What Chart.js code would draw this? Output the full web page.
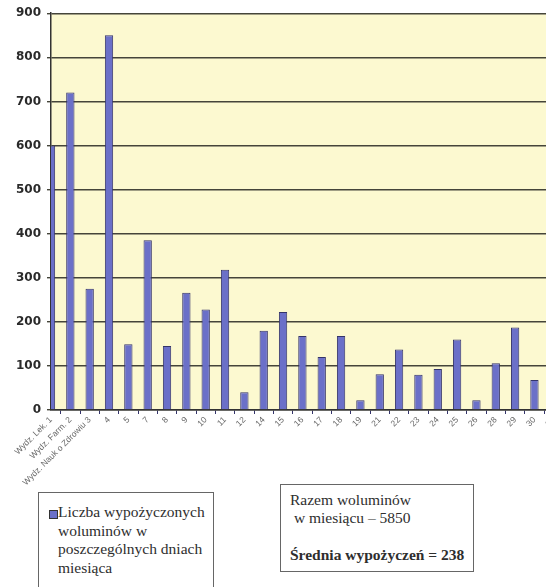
<!DOCTYPE html>
<html>
<head>
<meta charset="utf-8">
<script src="https://cdn.jsdelivr.net/npm/chart.js@4/dist/chart.umd.min.js"></script>
<style>
  html, body { margin:0; padding:0; background:#fff; width:546px; height:587px; overflow:hidden; }
  #wrap { position:absolute; left:0; top:0; width:562px; height:500px; }
  .box { position:absolute; border:1px solid #666; background:#fff; font-family:'Liberation Serif','Times New Roman',serif; font-size:15.5px; color:#2e2e2e; }
  #legendBox { left:38px; top:492px; width:174px; height:120px; }
  #legendBox .sw { position:absolute; left:10px; top:17px; width:7px; height:7px; border:1px solid #333; }
  #legendBox .txt { position:absolute; left:19px; top:10px; line-height:18.6px; white-space:nowrap; font-family:'Liberation Serif',serif; }
  #sumBox { left:280px; top:484px; width:192px; height:86px; }
  #sumBox .l { position:absolute; left:9px; line-height:18px; white-space:pre; font-family:'Liberation Serif',serif; }
</style>
</head>
<body>
<div id="wrap"><canvas id="c" width="562" height="500"></canvas></div>
<div class="box" id="legendBox"><div class="sw" id="sw"></div><div class="txt" id="legendTxt"></div></div>
<div class="box" id="sumBox"></div>
<script>
const categories = ['Wydz. Lek. 1','Wydz. Farm. 2','Wydz. Nauk o Zdrowiu 3','4','5','7','8','9','10','11','12','14','15','16','17','18','19','21','22','23','24','25','26','28','29','30','31'];
const loans = [600,720,275,850,149,385,145,266,228,318,40,180,222,168,120,168,22,81,137,80,93,160,22,106,187,68,60];
const yTicks = [0,100,200,300,400,500,600,700,800,900];
const seriesName = 'Liczba wypożyczonych woluminów w poszczególnych dniach miesiąca';
const legendLines = ['Liczba wypożyczonych','woluminów w','poszczególnych dniach','miesiąca'];
const summaryLines = ['Razem woluminów',' w miesiącu – 5850','Średnia wypożyczeń = 238'];

const barFill = '#6b70c8';
const barEdge = '#34346a';

document.getElementById('sw').style.background = barFill;
document.getElementById('legendTxt').innerHTML = legendLines.join('<br>');
const sb = document.getElementById('sumBox');
const tops = [6, 24, 61];
summaryLines.forEach((t, i) => {
  const d = document.createElement('div');
  d.className = 'l';
  d.style.top = tops[i] + 'px';
  if (i === 2) d.style.fontWeight = 'bold';
  d.textContent = t;
  sb.appendChild(d);
});

const bgPlugin = {
  id: 'bg',
  beforeDraw(chart) {
    const a = chart.chartArea, ctx = chart.ctx;
    ctx.save();
    ctx.fillStyle = '#fcf9d0';
    ctx.fillRect(a.left, a.top, a.right - a.left, a.bottom - a.top);
    ctx.restore();
  }
};

new Chart(document.getElementById('c'), {
  type: 'bar',
  data: {
    labels: categories,
    datasets: [{
      label: seriesName,
      data: loans,
      backgroundColor: barFill,
      borderColor: barEdge,
      borderWidth: 1,
      barPercentage: 0.43,
      categoryPercentage: 1,
      clip: 0
    }]
  },
  options: {
    responsive: false,
    devicePixelRatio: 1,
    animation: false,
    layout: { padding: { top: 13, right: 0, left: 0, bottom: 0 } },
    plugins: { legend: { display: false }, tooltip: { enabled: false } },
    scales: {
      x: {
        offset: false,
        afterFit(s) { s.height = 90; },
        grid: { display: true, drawOnChartArea: false, drawTicks: true, tickLength: 4, color: barEdge },
        border: { display: true, color: '#333', width: 1.5 },
        ticks: {
          autoSkip: false, minRotation: 45, maxRotation: 45, padding: 1,
          color: '#666', font: { family: 'Liberation Sans', size: 8.5 }
        }
      },
      y: {
        min: 0, max: 900,
        afterFit(s) { s.width = 51; },
        afterBuildTicks(s) { s.ticks = yTicks.map(v => ({ value: v })); },
        grid: { color: '#45453a', lineWidth: 1.4, tickLength: 4, drawTicks: true },
        border: { display: true, color: '#333', width: 1.5 },
        ticks: {
          padding: 6, color: '#2a2a2a',
          font: { family: 'DejaVu Sans', size: 12, weight: 'bold' }
        }
      }
    }
  },
  plugins: [bgPlugin]
});
</script>
</body>
</html>
